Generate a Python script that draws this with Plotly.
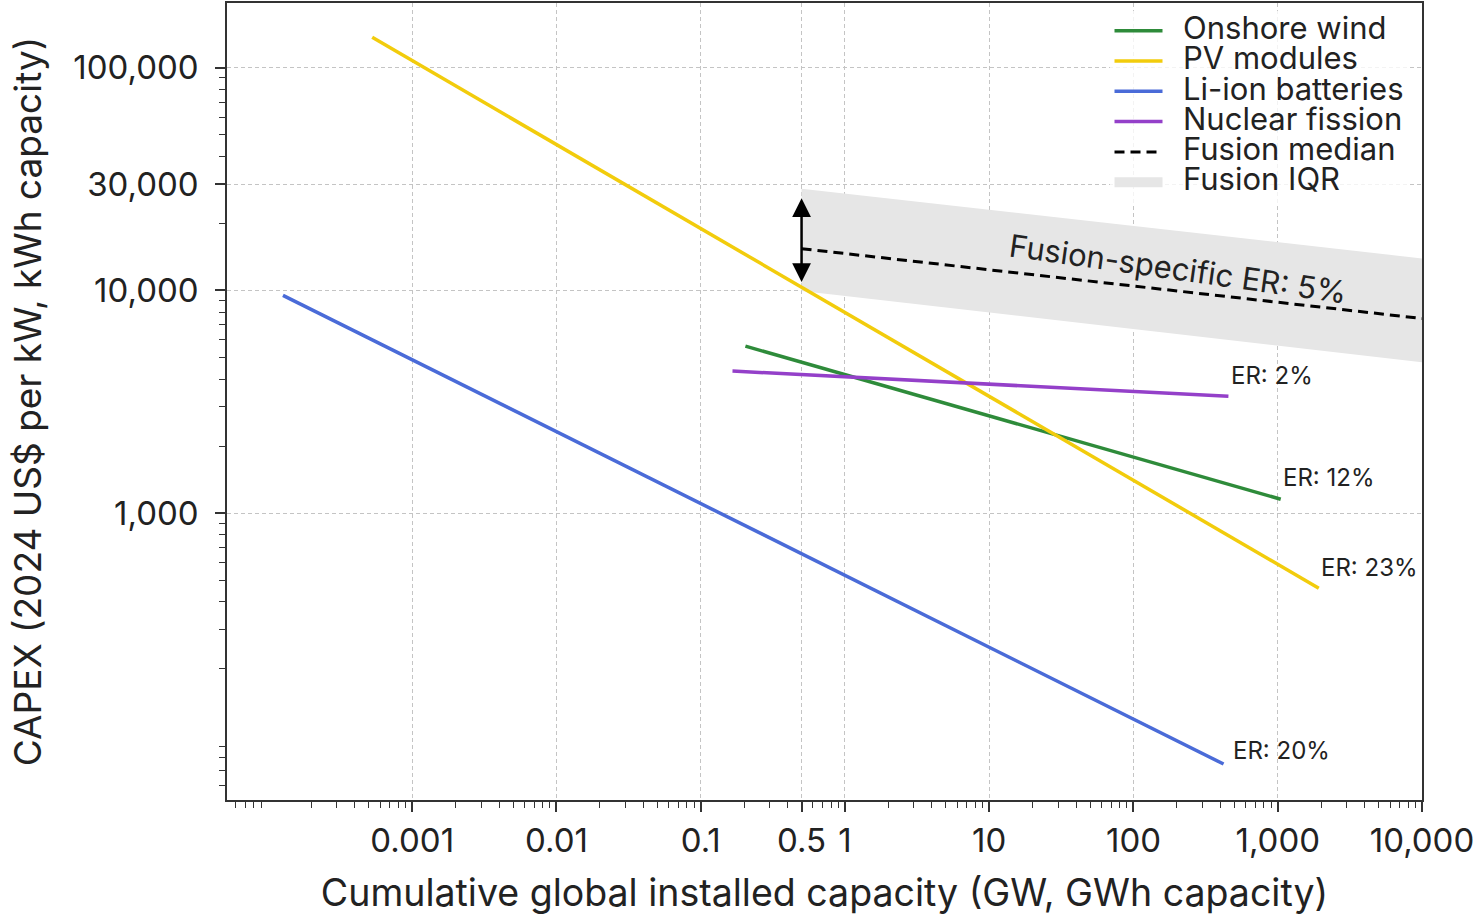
import math
import plotly.graph_objects as go

# ---- data ----
wind_x = [0.204, 1049]
wind_y = [5620, 1156]
pv_x = [0.000528, 1925]
pv_y = [136700, 461]
li_x = [0.000127, 421]
li_y = [9500, 74.9]
nuc_x = [0.166, 455]
nuc_y = [4345, 3347]
fus_x = [0.5, 10000]
fus_med = [15400, 7480]
fus_hi = [28600, 13920]
fus_lo = [9950, 4760]
arrow_x = 0.5
arrow_y = [10750, 25900]

er_labels = ["ER: 2%", "ER: 12%", "ER: 23%", "ER: 20%"]
er_x = [457, 1050, 1930, 472]
er_y = [4160, 1450, 573, 86.5]
fusion_label = "Fusion-specific ER: 5%"
fusion_label_x = 205
fusion_label_y = 12560

x_tickvals = [0.001, 0.01, 0.1, 0.5, 1, 10, 100, 1000, 10000]
x_ticktext = ["0.001", "0.01", "0.1", "0.5", "1", "10", "100", "1,000", "10,000"]
y_tickvals = [1000, 10000, 30000, 100000]
y_ticktext = ["1,000", "10,000", "30,000", "100,000"]

x_minor = [k * 10 ** d for d in range(-5, 4) for k in range(2, 10) if k * 10 ** d not in (0.5,)]
y_minor = [k * 10 ** d for d in range(1, 5) for k in range(2, 10) if k * 10 ** d != 30000]

FONT = "Inter"
LEG = 31
BAND = "#e6e6e6"

def lname(s):
    return f'<span style="font-size:{LEG}px">\u2002{s}</span>'

fig = go.Figure()

# Fusion IQR band
fig.add_trace(go.Scatter(x=fus_x, y=fus_lo, mode="lines", line=dict(width=0, color=BAND),
                         showlegend=False, hoverinfo="skip"))
fig.add_trace(go.Scatter(x=fus_x, y=fus_hi, mode="lines", line=dict(width=0, color=BAND),
                         fill="tonexty", fillcolor=BAND, showlegend=False, hoverinfo="skip"))
# legend entry for the band
fig.add_trace(go.Scatter(x=[None], y=[None], mode="lines", line=dict(width=22, color=BAND),
                         name=lname("Fusion IQR"), legendrank=6))

fig.add_trace(go.Scatter(x=wind_x, y=wind_y, mode="lines", line=dict(color="#2e8b3a", width=3.5),
                         name=lname("Onshore wind"), legendrank=1))
fig.add_trace(go.Scatter(x=pv_x, y=pv_y, mode="lines", line=dict(color="#f2cc0c", width=3.5),
                         name=lname("PV modules"), legendrank=2))
fig.add_trace(go.Scatter(x=li_x, y=li_y, mode="lines", line=dict(color="#4a6bd8", width=3.5),
                         name=lname("Li-ion batteries"), legendrank=3))
fig.add_trace(go.Scatter(x=nuc_x, y=nuc_y, mode="lines", line=dict(color="#9440c9", width=3.5),
                         name=lname("Nuclear fission"), legendrank=4))
fig.add_trace(go.Scatter(x=fus_x, y=fus_med, mode="lines", line=dict(color="black", width=3, dash="10px,6px"),
                         name=lname("Fusion median"), legendrank=5))

annotations = []
for t, xv, yv in zip(er_labels, er_x, er_y):
    annotations.append(dict(x=math.log10(xv), y=math.log10(yv), xref="x", yref="y", text=t,
                            showarrow=False, xanchor="left", yanchor="middle",
                            font=dict(size=24, color="#222", family=FONT)))
annotations.append(dict(x=math.log10(fusion_label_x), y=math.log10(fusion_label_y), xref="x", yref="y",
                        text=fusion_label, showarrow=False, textangle=8,
                        xanchor="center", yanchor="middle",
                        font=dict(size=31, color="#222", family=FONT)))
annotations.append(dict(x=math.log10(arrow_x), y=math.log10(arrow_y[1]), xref="x", yref="y",
                        ax=math.log10(arrow_x), ay=math.log10(arrow_y[0]), axref="x", ayref="y",
                        text="", showarrow=True, arrowhead=2, startarrowhead=2, arrowside="end+start",
                        arrowsize=1.5, startarrowsize=1.5, arrowwidth=2.5, arrowcolor="black",
                        standoff=0, startstandoff=0))

axis_common = dict(
    type="log", showline=True, linecolor="#333", linewidth=1.5, mirror=True,
    ticks="outside", ticklen=10, tickwidth=1.5, tickcolor="#333",
    showgrid=True, gridcolor="#c4c4c4", gridwidth=1, griddash="4px,3px",
    zeroline=False, tickfont=dict(size=33, color="#222", family=FONT),
    ticklabeloverflow="allow", automargin=False,
)

fig.update_xaxes(**axis_common, range=[-4.284, 4.0], tickmode="array",
                 tickvals=x_tickvals, ticktext=x_ticktext, ticklabelstandoff=1,
                 minor=dict(tickvals=x_minor, ticks="outside", ticklen=6, tickwidth=1.2,
                            tickcolor="#333", showgrid=False),
                 title=dict(text="Cumulative global installed capacity (GW, GWh capacity)",
                            font=dict(size=37.5, color="#222", family=FONT), standoff=20))
fig.update_yaxes(**axis_common, range=[1.713, 5.29], tickmode="array",
                 tickvals=y_tickvals, ticktext=y_ticktext, ticklabelstandoff=10,
                 minor=dict(tickvals=y_minor, ticks="outside", ticklen=6, tickwidth=1.2,
                            tickcolor="#333", showgrid=False),
                 title=dict(text="CAPEX (2024 US$ per kW, kWh capacity)",
                            font=dict(size=37, color="#222", family=FONT), standoff=20))

fig.update_layout(
    width=1473, height=923,
    margin=dict(l=227, r=51, t=3, b=123, autoexpand=False),
    paper_bgcolor="white", plot_bgcolor="white",
    font=dict(family=FONT, color="#222"),
    showlegend=True,
    legend=dict(x=0.7385, y=0.9905, xanchor="left", yanchor="top", xref="paper", yref="paper",
                bgcolor="rgba(255,255,255,0.8)", borderwidth=0,
                font=dict(size=21, color="#222", family=FONT), itemwidth=48,
                traceorder="normal"),
    annotations=annotations,
)

post = (
    "document.body.style.margin='0px';"
    "document.body.style.overflow='hidden';"
    "document.documentElement.style.overflow='hidden';"
)
fig.write_html("out.html", config={"displayModeBar": False}, post_script=post)
